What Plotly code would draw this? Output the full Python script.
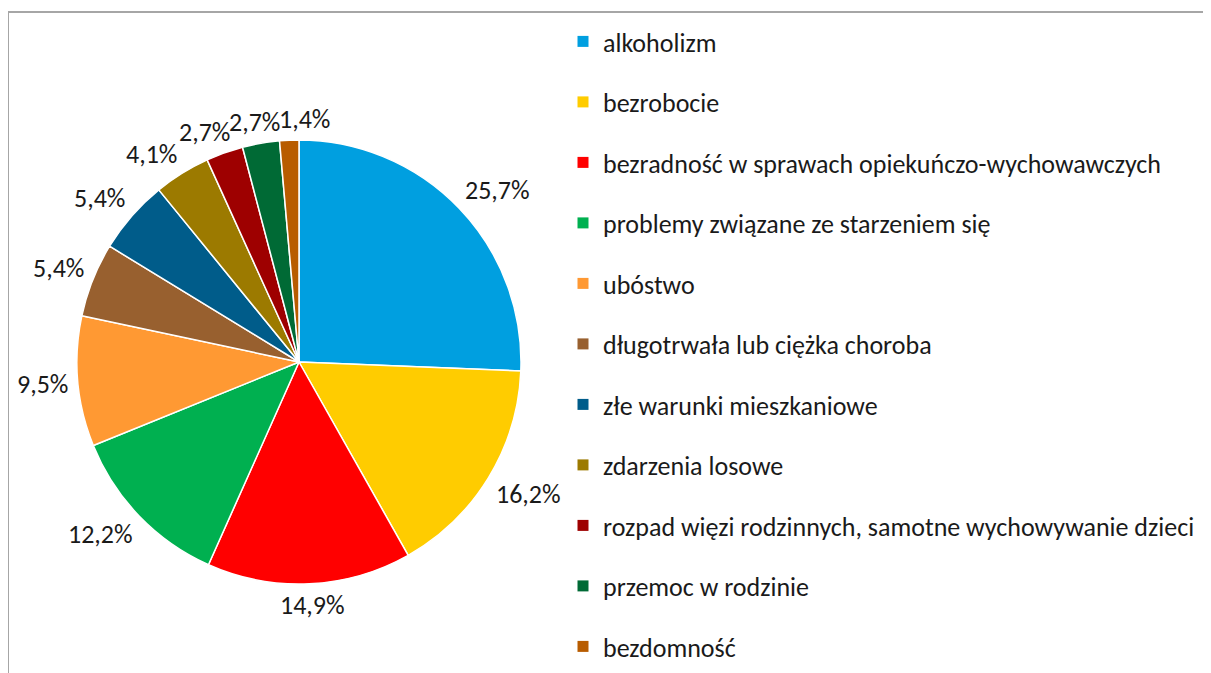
import math
import plotly.graph_objects as go

categories = [
    "alkoholizm",
    "bezrobocie",
    "bezradność w sprawach opiekuńczo-wychowawczych",
    "problemy związane ze starzeniem się",
    "ubóstwo",
    "długotrwała lub ciężka choroba",
    "złe warunki mieszkaniowe",
    "zdarzenia losowe",
    "rozpad więzi rodzinnych, samotne wychowywanie dzieci",
    "przemoc w rodzinie",
    "bezdomność",
]
values = [25.7, 16.2, 14.9, 12.2, 9.5, 5.4, 5.4, 4.1, 2.7, 2.7, 1.4]
colors = ["#009FE0", "#FFCC00", "#FF0000", "#00B050", "#FF9933", "#98602F",
          "#005C8A", "#9C7A00", "#9E0000", "#006A35", "#B85C00"]
labels_text = [f"{v:.1f}%".replace(".", ",") for v in values]

W, H = 1211, 673
OFF = 8  # page body margin
FONT = "Carlito, 'Liberation Sans Narrow', Lato, sans-serif"
FS = 26

# pie geometry (screen pixels)
CX, CY, R = 299, 362, 222

def px(x):
    return (x - OFF) / W

def py(y):
    return 1 - (y - OFF) / H

fig = go.Figure()
fig.add_trace(go.Pie(
    labels=categories,
    values=values,
    text=labels_text,
    textinfo="none",
    sort=False,
    direction="clockwise",
    rotation=0,
    marker=dict(colors=colors, line=dict(color="white", width=1.5)),
    domain=dict(x=[px(CX - R), px(CX + R)], y=[py(CY + R), py(CY - R)]),
    showlegend=False,
    hoverinfo="label+text",
))

# outside percentage labels, positioned from the slice mid-angles
total = sum(values)
boxes = []
cum = 0.0
for v, t in zip(values, labels_text):
    mid = (cum + v / 2) / total * 2 * math.pi
    cum += v
    dx, dy = math.sin(mid), -math.cos(mid)
    w, h = 12.5 * len(t), 22
    gx = CX + dx * (R + 10) + (w / 2) * max(-1, min(1, 2 * dx))
    gy = CY + dy * (R + 10) + (h / 2) * max(-1, min(1, 2 * dy))
    if boxes:
        px0, py0, pw, ph = boxes[-1]
        if abs(gx - px0) < (w + pw) / 2 and abs(gy - py0) < (h + ph) / 2:
            s = 1 if gx >= px0 else -1
            gx = px0 + s * (w + pw) / 2
    boxes.append((gx, gy, w, h))

annotations = [
    dict(x=px(gx), y=py(gy), xref="paper", yref="paper", text=t,
         showarrow=False, xanchor="center", yanchor="middle",
         font=dict(family=FONT, size=FS, color="#1a1a1a"))
    for (gx, gy, w, h), t in zip(boxes, labels_text)
]

for i, (c, col) in enumerate(zip(categories, colors)):
    fig.add_trace(go.Scatter(
        x=[None], y=[None], mode="markers", name=c,
        marker=dict(symbol="square", size=11, color=col),
        legendgroup=f"g{i}", showlegend=True,
    ))

fig.update_layout(
    width=W, height=H,
    margin=dict(l=0, r=0, t=0, b=0),
    paper_bgcolor="white", plot_bgcolor="white",
    xaxis=dict(visible=False), yaxis=dict(visible=False),
    legend=dict(
        x=px(563), y=py(18), xanchor="left", yanchor="top",
        font=dict(family=FONT, size=FS, color="#1a1a1a"),
        tracegroupgap=23.7, bgcolor="rgba(0,0,0,0)",
    ),
    annotations=annotations,
    shapes=[
        dict(type="line", xref="paper", yref="paper", x0=px(8), x1=px(8),
             y0=0, y1=py(12), line=dict(color="#A6A6A6", width=2)),
        dict(type="line", xref="paper", yref="paper", x0=px(8), x1=1,
             y0=py(12), y1=py(12), line=dict(color="#A6A6A6", width=2)),
    ],
)

fig.write_html("out.html")
